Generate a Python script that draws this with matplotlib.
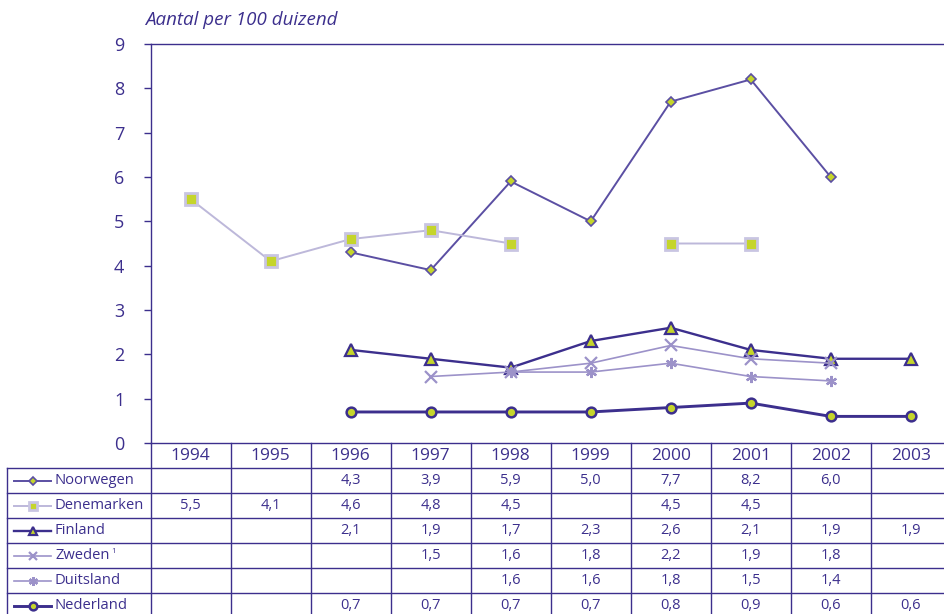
import matplotlib
matplotlib.use("Agg")
import matplotlib.pyplot as plt
import numpy as np

plt.rcParams['font.family'] = ['Open Sans', 'DejaVu Sans']

# ---- data ----
years = [1994, 1995, 1996, 1997, 1998, 1999, 2000, 2001, 2002, 2003]
nan = np.nan
noorwegen = [nan, nan, 4.3, 3.9, 5.9, 5.0, 7.7, 8.2, 6.0, nan]
denemarken = [5.5, 4.1, 4.6, 4.8, 4.5, nan, 4.5, 4.5, nan, nan]
finland = [nan, nan, 2.1, 1.9, 1.7, 2.3, 2.6, 2.1, 1.9, 1.9]
zweden = [nan, nan, nan, 1.5, 1.6, 1.8, 2.2, 1.9, 1.8, nan]
duitsland = [nan, nan, nan, nan, 1.6, 1.6, 1.8, 1.5, 1.4, nan]
nederland = [nan, nan, 0.7, 0.7, 0.7, 0.7, 0.8, 0.9, 0.6, 0.6]
row_labels = ["Noorwegen", "Denemarken", "Finland", "Zweden", "Duitsland", "Nederland"]
yticks = list(range(0, 10))
ylabel = "Aantal per 100 duizend"

# ---- stijl ----
dark = "#3c2f8d"
mid = "#5b4fa3"
light = "#bdb8da"
lilac = "#9c92c9"
yellow = "#c5d52b"

series = [
    (noorwegen, dict(color=mid, lw=1.4, marker="D", ms=5, mfc=yellow, mec=mid, mew=1.2)),
    (denemarken, dict(color=light, lw=1.4, marker="s", ms=8, mfc=yellow, mec="#c9c5e2", mew=2)),
    (finland, dict(color=dark, lw=1.7, marker="^", ms=8, mfc=yellow, mec=dark, mew=1.6)),
    (zweden, dict(color=lilac, lw=1.2, marker="x", ms=8, mec=lilac, mew=1.6)),
    (duitsland, dict(color=lilac, lw=1.2, marker=(6, 2, 0), ms=8, mec=lilac, mew=1.6)),
    (nederland, dict(color=dark, lw=2.1, marker="o", ms=7, mfc=yellow, mec=dark, mew=1.8)),
]

W, H = 945, 614
fig = plt.figure(figsize=(W / 100, H / 100), dpi=100)

# plotgebied in pixels
x0, x1 = 150.7, 950.7
y_top, y_bot = 44, 443
col_w = (x1 - x0) / len(years)

ax = fig.add_axes([x0 / W, (H - y_bot) / H, (x1 - x0) / W, (y_bot - y_top) / H])
ax.set_xlim(years[0] - 0.5, years[-1] + 0.5)
ax.set_ylim(0, 9)

for vals, st in series:
    ax.plot(years, vals, **st, clip_on=False, zorder=3)

ax.set_yticks(yticks)
ax.set_yticklabels([str(t) for t in yticks], fontsize=13, color=dark)
ax.set_xticks([])
ax.tick_params(axis="y", length=5, width=1, color=dark, pad=14)
for side in ["left", "top", "bottom"]:
    ax.spines[side].set_color(dark)
    ax.spines[side].set_linewidth(1)
ax.spines["right"].set_visible(False)
fig.text(145 / W, 1 - 20 / H, ylabel, fontsize=13.5, style="italic",
         color=dark, ha="left", va="center")

# ---- tabel ----
tax = fig.add_axes([0, 0, 1, (H - y_bot) / H])
tax.set_xlim(0, W)
tax.set_ylim(H, y_bot)
tax.axis("off")

row_h = 25
left = 7
tab_top = y_bot + row_h
n_rows = len(row_labels)
line_kw = dict(color=dark, lw=1, clip_on=False)

# kolomlijnen
for i in range(len(years) + 1):
    xx = x0 + i * col_w
    tax.plot([xx, xx], [y_bot, tab_top + n_rows * row_h], **line_kw)
tax.plot([left, left], [tab_top, tab_top + n_rows * row_h], **line_kw)
# rijlijnen
for r in range(n_rows + 1):
    yy = tab_top + r * row_h
    tax.plot([left, x1], [yy, yy], **line_kw)

# jaartallen
for i, yr in enumerate(years):
    tax.text(x0 + (i + 0.5) * col_w, y_bot + row_h / 2 + 1, str(yr),
             ha="center", va="center", fontsize=12.5, color=dark)

# rijen met legendasymbool (iets kleinere markers)
marker_keys = ("marker", "mfc", "mec", "mew")
for r, (name, (vals, st)) in enumerate(zip(row_labels, series)):
    yc = tab_top + (r + 0.5) * row_h
    tax.plot([14, 51], [yc, yc], color=st["color"], lw=st["lw"], clip_on=False)
    tax.plot([32.5], [yc], linestyle="none", clip_on=False, ms=st["ms"] * 0.8,
             **{k: v for k, v in st.items() if k in marker_keys})
    lbl = tax.text(55, yc, name, ha="left", va="center", fontsize=10.6, color=dark)
    if name == "Zweden":
        tax.annotate("1", xy=(1, 0.75), xycoords=lbl, xytext=(1, 0),
                     textcoords="offset points", ha="left", va="center",
                     fontsize=5.5, color=dark)
    for i, v in enumerate(vals):
        if not np.isnan(v):
            tax.text(x0 + (i + 0.5) * col_w, yc, f"{v:.1f}".replace(".", ","),
                     ha="center", va="center", fontsize=10.5, color=dark)

fig.savefig("out.png", dpi=100)
